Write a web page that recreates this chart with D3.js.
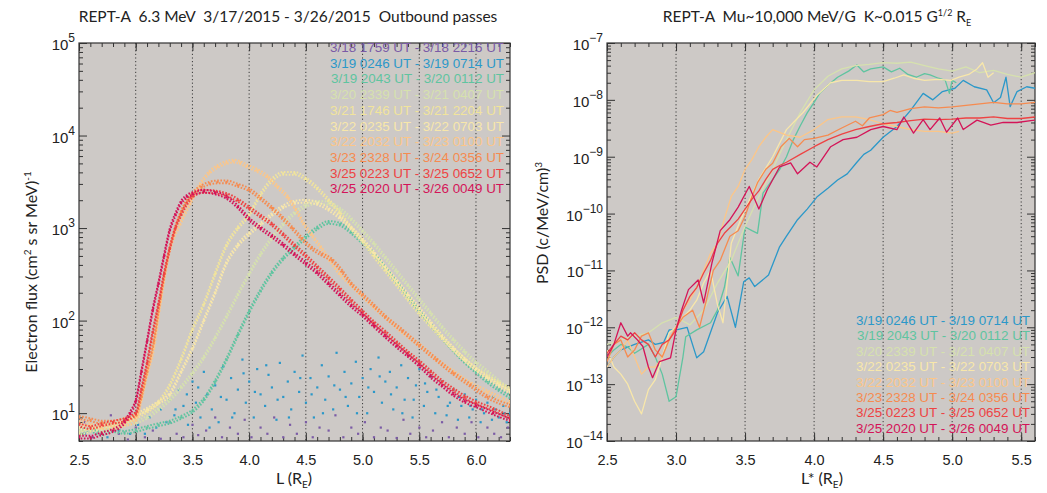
<!DOCTYPE html>
<html>
<head>
<meta charset="utf-8">
<script src="https://cdn.jsdelivr.net/npm/d3@7"></script>
<style>
    body { margin: 0; background: #fff; }
    svg { display: block; }
    text { white-space: pre; }
    .tick text { font-family: "Liberation Sans", Arial, sans-serif; font-size: 14.5px; fill: #222; }
    .tick line { stroke: #333; }
    .title, .axis-title { font-family: "Lato", "Open Sans", sans-serif; fill: #222; }
    .legend text { font-family: "Liberation Sans", Arial, sans-serif; font-size: 13.4px; }
</style>
</head>
<body>
<svg id="chart" width="1047" height="493"></svg>
<script>
// ---- data ----
const passLabels = [
    "3/18 1759 UT - 3/18 2216 UT",
    "3/19 0246 UT - 3/19 0714 UT",
    "3/19 2043 UT - 3/20 0112 UT",
    "3/20 2339 UT - 3/21 0407 UT",
    "3/21 1746 UT - 3/21 2204 UT",
    "3/22 0235 UT - 3/22 0703 UT",
    "3/22 2032 UT - 3/23 0100 UT",
    "3/23 2328 UT - 3/24 0356 UT",
    "3/25 0223 UT - 3/25 0652 UT",
    "3/25 2020 UT - 3/26 0049 UT"
];
const passColors = ["#7b5ba6", "#2b98c9", "#5fc4a0", "#d6e1ae", "#f1e49c", "#f8e7aa",
    "#fcc688", "#f68b50", "#ee4343", "#d41458"];

const lTicks = [2.5, 3.0, 3.5, 4.0, 4.5, 5.0, 5.5, 6.0];
const lStarTicks = [2.5, 3.0, 3.5, 4.0, 4.5, 5.0, 5.5];

// electron flux vs L, one array per pass
const fluxPurple = [[2.55,8],[2.62,5.5],[2.7,6],[2.78,9.5],[2.85,6],[2.93,5.2],[3.0,7],[3.08,5.5],[3.15,6.5],[3.22,5.3],
    [3.3,8],[3.36,6],[3.42,5.5],[3.5,7.5],[3.55,5.8],[3.62,6.5],[3.7,9],[3.76,5.5],[3.83,7],[3.9,6],[3.96,8.5],[4.02,5.5],
    [4.1,7],[4.16,6],[4.22,9],[4.3,5.5],[4.36,7.5],[4.42,6],[4.5,8],[4.56,5.5],[4.62,7],[4.7,6.5],[4.76,9.5],[4.83,5.5],
    [4.9,7],[4.96,6],[5.02,8],[5.1,5.5],[5.16,7],[5.22,6.5],[5.3,5.4],[5.36,8.5],[5.42,6],[5.5,7],[5.56,5.5],[5.62,6.5],
    [5.7,8],[5.76,5.5],[5.83,7],[5.9,6],[5.96,8],[6.02,5.5],[6.1,7],[6.16,6],[6.22,5.5],[6.28,7]];
const fluxBlue = [[2.55,6],[2.65,7],[2.75,5.5],[2.85,6.5],[2.95,6],[3.02,7.5],[3.08,6],[3.12,9],[3.18,7],[3.22,11],[3.27,8],
    [3.3,14],[3.34,9.5],[3.38,18],[3.42,12],[3.46,7.5],[3.5,22],[3.53,13],[3.57,9],[3.6,28],[3.63,16],[3.67,11],[3.7,20],
    [3.73,8],[3.77,32],[3.8,14],[3.84,24],[3.87,10],[3.9,18],[3.94,38],[3.97,13],[4.0,22],[4.04,9],[4.07,30],[4.1,16],
    [4.14,12],[4.17,26],[4.2,19],[4.24,8.5],[4.27,35],[4.3,15],[4.34,22],[4.37,11],[4.4,28],[4.44,17],[4.47,42],[4.5,13],
    [4.54,24],[4.57,9],[4.6,19],[4.64,33],[4.67,14],[4.7,25],[4.74,11],[4.77,45],[4.8,18],[4.84,28],[4.87,12],[4.9,21],
    [4.94,36],[4.97,15],[5.0,24],[5.04,10],[5.07,30],[5.1,17],[5.14,40],[5.17,13],[5.2,22],[5.24,28],[5.27,11],[5.3,19],
    [5.34,33],[5.37,14],[5.4,24],[5.44,9],[5.47,20],[5.5,30],[5.54,12],[5.57,17],[5.6,25],[5.64,10],[5.67,15],[5.7,22],
    [5.74,9.5],[5.77,13],[5.8,18],[5.84,8.5],[5.87,12],[5.9,16],[5.94,9],[5.97,11],[6.0,14],[6.04,8],[6.07,10],[6.1,13],
    [6.14,8.5],[6.17,11],[6.2,9],[6.24,12],[6.27,8],[6.3,10],
    [3.35,11],[3.45,16],[3.55,19],[3.65,7],[3.75,15],[3.85,9],[3.95,27],[4.05,17],[4.15,33],[4.25,14],[4.35,9],[4.45,24],
    [4.55,16],[4.65,10],[4.75,20],[4.85,15],[4.95,10],[5.05,19],[5.15,25],[5.25,16],[5.35,10],[5.45,14],[5.55,21],
    [5.65,18],[5.75,12],[5.85,15],[5.95,12],[6.05,11],[6.15,15],[6.25,10]];
const fluxTeal = [[2.5,6],[2.6,6.5],[2.7,6],[2.8,6.5],[2.9,6.2],[3.0,6.5],[3.1,7],[3.2,7.5],[3.3,8],[3.4,9],[3.5,10.5],
    [3.6,14],[3.7,22],[3.8,38],[3.9,70],[4.0,125],[4.1,210],[4.2,330],[4.3,470],[4.4,620],[4.5,800],[4.6,1000],[4.7,1150],
    [4.8,1100],[4.9,900],[5.0,700],[5.1,520],[5.2,370],[5.3,260],[5.4,180],[5.5,125],[5.6,90],[5.7,65],[5.8,48],[5.9,36],
    [6.0,28],[6.1,22],[6.2,18],[6.3,15]];
const fluxPaleGreen = [[2.5,6.5],[2.6,7],[2.7,6.5],[2.8,7],[2.9,7.5],[3.0,8],[3.1,9],[3.2,11],[3.3,14],[3.4,19],[3.5,27],
    [3.6,40],[3.7,65],[3.8,110],[3.9,190],[4.0,320],[4.1,520],[4.2,780],[4.3,1100],[4.4,1450],[4.5,1750],[4.6,1900],
    [4.7,1850],[4.8,1600],[4.9,1250],[5.0,930],[5.1,680],[5.2,480],[5.3,340],[5.4,240],[5.5,170],[5.6,120],[5.7,85],
    [5.8,62],[5.9,46],[6.0,35],[6.1,28],[6.2,22],[6.3,18]];
const fluxYellow = [[2.5,6],[2.6,6.5],[2.7,7],[2.8,7.5],[2.9,8],[3.0,9],[3.1,10.5],[3.2,13],[3.3,20],[3.4,38],[3.5,80],
    [3.6,150],[3.7,320],[3.8,650],[3.9,1000],[4.0,1400],[4.1,2300],[4.2,3300],[4.3,3900],[4.4,3900],[4.5,3400],[4.6,2700],
    [4.7,2000],[4.8,1450],[4.9,1000],[5.0,720],[5.1,500],[5.2,350],[5.3,245],[5.4,170],[5.5,120],[5.6,88],[5.7,65],
    [5.8,49],[5.9,38],[6.0,30],[6.1,25],[6.2,21],[6.3,18]];
const fluxLightYellow = [[2.5,7],[2.6,7],[2.7,7.5],[2.8,8],[2.9,8.5],[3.0,9.5],[3.1,11],[3.2,13],[3.3,16],[3.4,28],[3.5,50],
    [3.6,100],[3.7,200],[3.8,420],[3.9,650],[4.0,870],[4.1,1100],[4.2,1400],[4.3,1700],[4.4,1900],[4.5,1950],[4.6,1850],
    [4.7,1600],[4.8,1300],[4.9,1000],[5.0,750],[5.1,540],[5.2,380],[5.3,270],[5.4,190],[5.5,135],[5.6,95],[5.7,68],
    [5.8,50],[5.9,38],[6.0,30],[6.1,24],[6.2,20],[6.3,17]];
const fluxLightOrange = [[2.5,8],[2.6,7.5],[2.7,7],[2.8,7],[2.9,7.5],[3.0,8.3],[3.05,14],[3.1,26],[3.16,50],[3.22,160],
    [3.3,570],[3.39,1100],[3.48,1850],[3.57,3000],[3.65,4000],[3.72,4600],[3.8,5100],[3.86,5300],[3.92,5100],[3.98,4700],
    [4.07,4200],[4.16,3600],[4.25,2800],[4.34,2150],[4.41,1600],[4.48,1120],[4.55,850],[4.63,620],[4.71,450],[4.8,320],
    [4.89,250],[4.98,195],[5.1,140],[5.2,110],[5.35,75],[5.5,55],[5.65,38],[5.8,28],[5.95,21],[6.1,17],[6.3,13]];
const fluxOrange = [[2.5,9],[2.6,8.5],[2.7,8],[2.8,8],[2.9,8.5],[3.0,9.5],[3.05,15],[3.1,28],[3.16,60],[3.22,180],[3.3,600],
    [3.4,1500],[3.5,2350],[3.58,2800],[3.65,3050],[3.72,3150],[3.8,3150],[3.9,2900],[4.0,2600],[4.1,2100],[4.2,1650],
    [4.29,1300],[4.38,1000],[4.46,780],[4.55,610],[4.64,520],[4.73,450],[4.82,340],[4.9,250],[5.0,190],[5.1,145],[5.2,110],
    [5.35,78],[5.5,54],[5.65,38],[5.8,27],[5.95,20],[6.1,15],[6.3,12]];
const fluxRed = [[2.5,7.5],[2.6,7],[2.7,7.5],[2.8,8],[2.9,8.5],[3.0,10],[3.05,18],[3.1,35],[3.15,75],[3.2,150],[3.25,320],
    [3.3,600],[3.35,1000],[3.4,1400],[3.5,2200],[3.6,2500],[3.7,2450],[3.8,2300],[3.9,2000],[4.0,1650],[4.1,1350],
    [4.2,1100],[4.3,850],[4.4,650],[4.5,500],[4.6,380],[4.7,290],[4.8,220],[4.9,165],[5.0,125],[5.1,95],[5.2,75],[5.3,58],
    [5.4,45],[5.5,36],[5.6,28],[5.7,22],[5.8,18],[5.9,15],[6.0,13],[6.15,11],[6.3,9]];
const fluxCrimson = [[2.5,5.5],[2.6,5.5],[2.7,6],[2.8,6.5],[2.9,8],[2.95,10],[3.0,13.5],[3.05,28],[3.1,60],[3.15,130],
    [3.2,250],[3.25,500],[3.3,950],[3.35,1400],[3.4,1900],[3.45,2200],[3.5,2350],[3.6,2500],[3.7,2400],[3.8,2150],[3.9,1700],
    [4.0,1250],[4.1,1000],[4.2,820],[4.3,660],[4.4,520],[4.5,415],[4.6,330],[4.7,250],[4.8,190],[4.9,145],[5.0,115],
    [5.1,88],[5.2,68],[5.3,53],[5.4,42],[5.5,33],[5.6,25],[5.7,20],[5.8,16],[5.9,13.5],[6.0,12],[6.15,10],[6.3,8.5]];

// phase space density vs L*, one array per pass (3/18 and 3/21 1746 not shown)
const psdBlue = [[2.5,2e-13],[2.55,3e-13],[2.6,4e-13],[2.7,5e-13],[2.8,6e-13],[2.85,5e-13],[2.91,5.4e-13],[2.95,9e-13],
    [3.01,9.1e-13],[3.08,1e-12],[3.15,2.9e-13],[3.2,3.7e-13],[3.3,1.8e-12],[3.37,3.5e-12],[3.43,1e-12],[3.49,6.3e-12],
    [3.53,7.4e-12],[3.57,5.2e-12],[3.67,8.3e-12],[3.75,2.6e-11],[3.8,4e-11],[3.88,7.8e-11],[3.95,1.2e-10],[4.02,1.95e-10],
    [4.1,2.8e-10],[4.17,3.9e-10],[4.24,5e-10],[4.31,8e-10],[4.36,1.1e-9],[4.41,1.3e-9],[4.5,2.2e-9],[4.6,3.4e-9],
    [4.7,6.6e-9],[4.79,1.3e-8],[4.86,1e-8],[4.93,1.4e-8],[5.02,1.6e-8],[5.08,2.2e-8],[5.16,1.7e-8],[5.25,1.5e-8],
    [5.3,8.9e-9],[5.35,1.1e-8],[5.39,2.5e-8],[5.42,7.6e-9],[5.47,1.4e-8],[5.54,1.7e-8],[5.6,1.6e-8]];
const psdTeal = [[2.5,3e-13],[2.55,4e-13],[2.6,5e-13],[2.65,4.5e-13],[2.7,3.5e-13],[2.8,5e-13],[2.85,3e-13],[2.9,1.5e-13],
    [2.95,5e-14],[3.0,6e-14],[3.05,3e-13],[3.07,6.8e-13],[3.15,9e-13],[3.25,1.2e-12],[3.3,2e-12],[3.35,5e-12],[3.39,1.7e-11],
    [3.45,8e-12],[3.5,5.8e-11],[3.55,5e-11],[3.59,4.5e-11],[3.63,2.3e-10],[3.7,4e-10],[3.75,5.9e-10],[3.8,1e-9],[3.85,2e-9],
    [3.9,3.5e-9],[3.95,5.9e-9],[4.0,9e-9],[4.04,1.3e-8],[4.1,1.8e-8],[4.17,2.5e-8],[4.25,3.2e-8],[4.31,4.1e-8],[4.36,3.1e-8],
    [4.41,3.5e-8],[4.5,3.8e-8],[4.56,3.1e-8],[4.62,3.6e-8],[4.68,2.8e-8],[4.74,2.5e-8],[4.8,2.9e-8],[4.84,2.75e-8],
    [4.9,2.4e-8],[4.95,2.2e-8],[4.98,1.3e-8],[5.0,2.2e-8],[5.03,2e-8]];
const psdPaleGreen = [[2.5,5e-13],[2.6,6e-13],[2.7,7e-13],[2.8,8e-13],[2.9,1.2e-12],[3.0,1.5e-12],[3.1,1.1e-12],[3.2,2e-12],
    [3.3,6e-12],[3.4,1.5e-11],[3.5,6e-11],[3.6,2e-10],[3.7,6e-10],[3.8,2e-9],[3.9,6e-9],[4.0,1.5e-8],[4.1,2.6e-8],[4.2,3.5e-8],
    [4.3,4e-8],[4.4,4.2e-8],[4.5,4.5e-8],[4.6,4.4e-8],[4.7,4.6e-8],[4.8,4e-8],[4.9,3.5e-8],[5.0,3.2e-8],[5.1,3.8e-8],
    [5.2,3e-8],[5.3,3.3e-8],[5.4,2.8e-8],[5.5,2.5e-8],[5.6,3e-8]];
const psdLightYellow = [[2.5,4e-13],[2.55,2e-13],[2.6,1.5e-13],[2.65,1e-13],[2.7,5e-14],[2.75,3e-14],[2.8,8e-14],[2.85,1.2e-13],
    [2.9,3e-13],[2.95,8e-13],[3.0,1e-12],[3.05,1.5e-12],[3.1,2e-12],[3.15,3e-12],[3.2,6e-12],[3.25,1e-11],[3.3,2.5e-12],
    [3.34,1.2e-12],[3.4,3e-11],[3.46,7e-11],[3.52,1.5e-10],[3.6,4e-10],[3.7,1e-9],[3.8,3e-9],[3.92,6e-9],[4.02,1.2e-8],
    [4.12,2e-8],[4.2,2.2e-8],[4.31,2.2e-8],[4.4,2.1e-8],[4.5,2.1e-8],[4.58,2.4e-8],[4.65,2.75e-8],[4.72,2.4e-8],[4.8,2.2e-8],
    [4.9,2.3e-8],[4.99,2.2e-8],[5.05,2.5e-8],[5.12,2.8e-8],[5.18,3.5e-8],[5.22,4.5e-8],[5.26,2.5e-8],[5.3,3e-8]];
const psdLightOrange = [[2.5,2e-13],[2.55,3e-13],[2.6,4e-13],[2.65,6e-13],[2.7,3e-13],[2.75,1.5e-13],[2.8,2e-13],[2.85,2e-13],
    [2.9,3e-13],[2.95,6e-13],[3.0,1e-12],[3.05,2e-12],[3.1,3e-12],[3.15,5e-12],[3.2,1e-11],[3.25,2e-11],[3.3,3e-11],
    [3.35,8e-11],[3.4,2e-10],[3.45,3e-10],[3.5,6e-10],[3.55,9e-10],[3.6,1.5e-9],[3.65,2.2e-9],[3.7,3e-9],[3.8,2.4e-9],
    [3.9,2.2e-9],[4.0,3e-9],[4.1,4.5e-9],[4.2,5e-9],[4.3,5e-9],[4.4,4.5e-9],[4.5,3.8e-9],[4.6,3.4e-9],[4.7,3e-9],
    [4.8,2.8e-9],[4.9,2.8e-9],[5.0,2.6e-9],[5.05,2.8e-9]];
const psdOrange = [[2.5,2.5e-13],[2.55,5e-13],[2.6,6e-13],[2.65,3e-13],[2.7,4e-13],[2.75,7e-13],[2.8,8e-13],[2.85,4e-13],
    [2.9,3e-13],[2.95,6e-13],[3.0,1e-12],[3.05,1.5e-12],[3.12,2e-12],[3.17,1e-12],[3.22,3e-12],[3.27,1e-11],[3.32,1.5e-11],
    [3.39,4e-11],[3.45,5e-11],[3.5,9e-11],[3.55,2e-10],[3.59,3.5e-10],[3.65,6e-10],[3.7,7.7e-10],[3.76,1.5e-9],[3.82,2.1e-9],
    [3.88,1.5e-9],[3.93,2e-9],[4.0,2.1e-9],[4.1,2.4e-9],[4.2,3.2e-9],[4.3,4.2e-9],[4.35,3.5e-9],[4.4,4.8e-9],[4.5,5.5e-9],
    [4.55,6.5e-9],[4.6,6e-9],[4.7,7e-9],[4.8,7.5e-9],[4.9,7.2e-9],[5.0,7.5e-9],[5.1,8e-9],[5.2,8.5e-9],[5.3,9e-9],
    [5.4,8.5e-9],[5.5,8.5e-9],[5.6,9e-9]];
const psdRed = [[2.5,3.5e-13],[2.55,5e-13],[2.6,7e-13],[2.65,6e-13],[2.7,8e-13],[2.75,6e-13],[2.8,5e-13],[2.85,3e-13],
    [2.9,5e-13],[2.95,6e-13],[3.0,9e-13],[3.05,2e-12],[3.1,3.5e-12],[3.15,5e-12],[3.2,9e-12],[3.25,1.5e-11],[3.3,3e-11],
    [3.35,4.5e-11],[3.4,6e-11],[3.45,8e-11],[3.5,1.2e-10],[3.55,1.8e-10],[3.6,2.5e-10],[3.65,4e-10],[3.7,6e-10],[3.75,7e-10],
    [3.8,8e-10],[3.9,1.1e-9],[4.0,1.5e-9],[4.1,2e-9],[4.2,2.5e-9],[4.3,3e-9],[4.4,3.4e-9],[4.5,3.8e-9],[4.6,4e-9],
    [4.7,4.3e-9],[4.8,4.6e-9],[4.9,4.5e-9],[5.0,4.6e-9],[5.1,4.8e-9],[5.2,4.8e-9],[5.3,5e-9],[5.4,4.7e-9],[5.5,4.7e-9],
    [5.6,5e-9]];
const psdCrimson = [[2.5,3e-13],[2.55,5e-13],[2.6,1.2e-12],[2.65,7e-13],[2.67,8e-13],[2.72,6e-13],[2.76,4.6e-13],[2.8,2e-13],
    [2.83,1.3e-13],[2.88,2.5e-13],[2.96,2.9e-13],[3.0,9e-13],[3.04,2e-12],[3.09,4.6e-12],[3.16,6.8e-12],[3.2,2.7e-12],
    [3.26,1.35e-11],[3.32,5e-11],[3.39,7.8e-11],[3.45,1.3e-10],[3.53,3e-10],[3.6,1.2e-10],[3.66,2.6e-10],[3.75,6.6e-10],
    [3.83,7.8e-10],[3.88,5e-10],[3.97,8e-10],[4.02,6.6e-10],[4.12,1.5e-9],[4.21,2e-9],[4.31,2.2e-9],[4.41,3e-9],[4.5,3.4e-9],
    [4.6,3e-9],[4.65,5e-9],[4.72,2.6e-9],[4.79,4.5e-9],[4.84,3e-9],[4.91,4.8e-9],[4.96,2.7e-9],[5.04,4.8e-9],[5.08,3e-9],
    [5.18,4.4e-9],[5.28,3.6e-9],[5.37,4e-9],[5.47,4e-9],[5.57,4.3e-9],[5.6,4.4e-9]];

// which pass each array belongs to (index into passLabels)
const fluxSeries = [
    {pass: 0, values: fluxPurple, scatter: true},
    {pass: 1, values: fluxBlue, scatter: true},
    {pass: 2, values: fluxTeal},
    {pass: 3, values: fluxPaleGreen},
    {pass: 4, values: fluxYellow},
    {pass: 5, values: fluxLightYellow},
    {pass: 6, values: fluxLightOrange},
    {pass: 7, values: fluxOrange},
    {pass: 8, values: fluxRed},
    {pass: 9, values: fluxCrimson}
];
const psdSeries = [
    {pass: 1, values: psdBlue},
    {pass: 2, values: psdTeal},
    {pass: 3, values: psdPaleGreen},
    {pass: 5, values: psdLightYellow},
    {pass: 6, values: psdLightOrange},
    {pass: 7, values: psdOrange},
    {pass: 8, values: psdRed},
    {pass: 9, values: psdCrimson}
];

const svg = d3.select("#chart");

/**
 * minor log ticks (2..9 x decade) inside the domain
 */
function logMinors(domain) {
    let out = [];
    let lo = Math.floor(Math.log10(domain[0])), hi = Math.ceil(Math.log10(domain[1]));
    for (let e = lo; e < hi; e++) {
        for (let k = 2; k <= 9; k++) {
            let v = k * Math.pow(10, e);
            if (v >= domain[0] && v <= domain[1]) out.push(v);
        }
    }
    return out;
}

/**
 * Draw the frame of a panel: background, dotted grid, inward ticks on all four sides
 */
function drawPanel(x, y, majorsX, grid) {
    let [x0, x1] = x.range(), [y1, y0] = y.range();
    let g = svg.append("g");

    g.append("rect")
        .attr("x", x0).attr("y", y0)
        .attr("width", x1 - x0).attr("height", y1 - y0)
        .attr("fill", "#cdc9c6");

    g.selectAll(".grid")
        .data(grid)
        .enter().append("line")
        .attr("x1", d => x(d)).attr("x2", d => x(d))
        .attr("y1", y0).attr("y2", y1)
        .attr("stroke", "#3a3a3a")
        .attr("stroke-width", 1)
        .attr("stroke-dasharray", "1.2,2.4");

    let minorsX = d3.range(Math.round(x.domain()[0] * 10), Math.round(x.domain()[1] * 10) + 1).map(d => d / 10);
    let decades = y.ticks().filter(d => Math.abs(Math.log10(d) - Math.round(Math.log10(d))) < 1e-9);
    let minorsY = logMinors(y.domain());

    let frame = g.append("g").attr("class", "frame");
    // bottom
    frame.append("g").attr("transform", `translate(0,${y1})`)
        .call(d3.axisBottom(x).tickValues(minorsX).tickSize(-4).tickFormat(""));
    frame.append("g").attr("transform", `translate(0,${y1})`)
        .call(d3.axisBottom(x).tickValues(majorsX).tickSize(-8).tickPadding(14).tickFormat(d3.format(".1f")));
    // top
    frame.append("g").attr("transform", `translate(0,${y0})`)
        .call(d3.axisTop(x).tickValues(minorsX).tickSize(-4).tickFormat(""));
    frame.append("g").attr("transform", `translate(0,${y0})`)
        .call(d3.axisTop(x).tickValues(majorsX).tickSize(-8).tickFormat(""));
    // left
    frame.append("g").attr("transform", `translate(${x0},0)`)
        .call(d3.axisLeft(y).tickValues(minorsY).tickSize(-4).tickFormat(""));
    frame.append("g").attr("transform", `translate(${x0},0)`)
        .call(d3.axisLeft(y).tickValues(decades).tickSize(-8).tickPadding(4).tickFormat(""))
        .selectAll(".tick text")
        .attr("dy", "0.45em")
        .each(function (d) {
            let e = String(Math.round(Math.log10(d))).replace("-", "\u2212");
            let t = d3.select(this);
            t.append("tspan").attr("font-size", 15).text("10");
            t.append("tspan").attr("dy", -8).attr("font-size", 12).text(e);
        });
    // right
    frame.append("g").attr("transform", `translate(${x1},0)`)
        .call(d3.axisRight(y).tickValues(minorsY).tickSize(-4).tickFormat(""));
    frame.append("g").attr("transform", `translate(${x1},0)`)
        .call(d3.axisRight(y).tickValues(decades).tickSize(-8).tickFormat(""));

    frame.selectAll(".domain").remove();
    frame.selectAll(".tick line").attr("stroke", "#333");

    g.append("rect")
        .attr("x", x0).attr("y", y0)
        .attr("width", x1 - x0).attr("height", y1 - y0)
        .attr("fill", "none")
        .attr("stroke", "#333")
        .attr("stroke-width", 1.2);
    return g;
}

function legend(items, xRight, yTop, step) {
    svg.append("g").attr("class", "legend")
        .selectAll("text")
        .data(items)
        .enter().append("text")
        .attr("x", xRight)
        .attr("y", (d, i) => yTop + i * step)
        .attr("text-anchor", "end")
        .attr("fill", d => passColors[d])
        .text(d => passLabels[d]);
}

// ---------- left panel: electron flux ----------
let xL = d3.scaleLinear().domain([2.5, 6.3]).range([79, 510]);
let yF = d3.scaleLog().domain([5, 1e5]).range([441, 43]);

drawPanel(xL, yF, lTicks, [3.0, 3.5, 4.0, 4.5, 5.0, 5.5, 6.0]);

svg.append("clipPath").attr("id", "clipL")
    .append("rect").attr("x", 79).attr("y", 43).attr("width", 431).attr("height", 398);

let fluxLine = d3.line()
    .x(d => xL(d[0]))
    .y(d => yF(d[1]))
    .curve(d3.curveMonotoneX);

let gF = svg.append("g").attr("clip-path", "url(#clipL)");
fluxSeries.forEach(s => {
    let col = passColors[s.pass];
    if (!s.scatter) {
        // two speckled tracks give the dotted band look of the dense samples
        [[-1.4, "0"], [1.4, "1.5"]].forEach(([dy, off]) => {
            gF.append("path")
                .attr("d", fluxLine(s.values))
                .attr("transform", `translate(0,${dy})`)
                .attr("fill", "none")
                .attr("stroke", col)
                .attr("stroke-width", 2)
                .attr("stroke-dasharray", "1.6,1.6")
                .attr("stroke-dashoffset", off);
        });
    }
    gF.append("g").selectAll("rect")
        .data(s.values)
        .enter().append("rect")
        .attr("x", d => xL(d[0]) - 1)
        .attr("y", d => yF(d[1]) - 1)
        .attr("width", 2.2)
        .attr("height", 2.2)
        .attr("fill", col);
});

legend(d3.range(10), 504, 52, 15.7);

svg.append("text").attr("class", "title")
    .attr("x", 288).attr("y", 22)
    .attr("text-anchor", "middle")
    .attr("font-size", 15.5)
    .text("REPT-A  6.3 MeV  3/17/2015 - 3/26/2015  Outbound passes");

let xlab = svg.append("text").attr("class", "axis-title")
    .attr("x", 294).attr("y", 484)
    .attr("text-anchor", "middle")
    .attr("font-size", 16);
xlab.append("tspan").text("L (R");
xlab.append("tspan").attr("font-size", 10).attr("dy", 4).text("E");
xlab.append("tspan").attr("dy", -4).text(")");

let ylab = svg.append("text").attr("class", "axis-title")
    .attr("transform", "translate(37,272) rotate(-90)")
    .attr("text-anchor", "middle")
    .attr("font-size", 16);
ylab.append("tspan").text("Electron flux (cm");
ylab.append("tspan").attr("font-size", 10).attr("dy", -6).text("2");
ylab.append("tspan").attr("dy", 6).text(" s sr MeV)");
ylab.append("tspan").attr("font-size", 10).attr("dy", -6).text("-1");

// ---------- right panel: phase space density ----------
let xR = d3.scaleLinear().domain([2.5, 5.6]).range([607, 1035]);
let yP = d3.scaleLog().domain([1e-14, 1e-7]).range([441, 43]);

drawPanel(xR, yP, lStarTicks, [3.0, 3.5, 4.0, 4.5, 5.0, 5.5]);

svg.append("clipPath").attr("id", "clipR")
    .append("rect").attr("x", 607).attr("y", 43).attr("width", 428).attr("height", 398);

let psdLine = d3.line()
    .x(d => xR(d[0]))
    .y(d => yP(d[1]));

let gP = svg.append("g").attr("clip-path", "url(#clipR)");
gP.selectAll("path")
    .data(psdSeries)
    .enter().append("path")
    .attr("d", s => psdLine(s.values))
    .attr("fill", "none")
    .attr("stroke", s => passColors[s.pass])
    .attr("stroke-width", 1.3)
    .attr("stroke-linejoin", "round");

legend([1, 2, 3, 5, 6, 7, 8, 9], 1030, 325, 15.4);

let rt = svg.append("text").attr("class", "title")
    .attr("x", 817).attr("y", 22)
    .attr("text-anchor", "middle")
    .attr("font-size", 15.5);
rt.append("tspan").text("REPT-A  Mu~10,000 MeV/G  K~0.015 G");
rt.append("tspan").attr("font-size", 9).attr("dy", -6).text("1/2");
rt.append("tspan").attr("dy", 6).text(" R");
rt.append("tspan").attr("font-size", 9).attr("dy", 4).text("E");

let xlabR = svg.append("text").attr("class", "axis-title")
    .attr("x", 822).attr("y", 484)
    .attr("text-anchor", "middle")
    .attr("font-size", 16);
xlabR.append("tspan").text("L* (R");
xlabR.append("tspan").attr("font-size", 10).attr("dy", 4).text("E");
xlabR.append("tspan").attr("dy", -4).text(")");

let ylabR = svg.append("text").attr("class", "axis-title")
    .attr("transform", "translate(548,223) rotate(-90)")
    .attr("text-anchor", "middle")
    .attr("font-size", 16);
ylabR.append("tspan").text("PSD (c/MeV/cm)");
ylabR.append("tspan").attr("font-size", 10).attr("dy", -6).text("3");
</script>
</body>
</html>
